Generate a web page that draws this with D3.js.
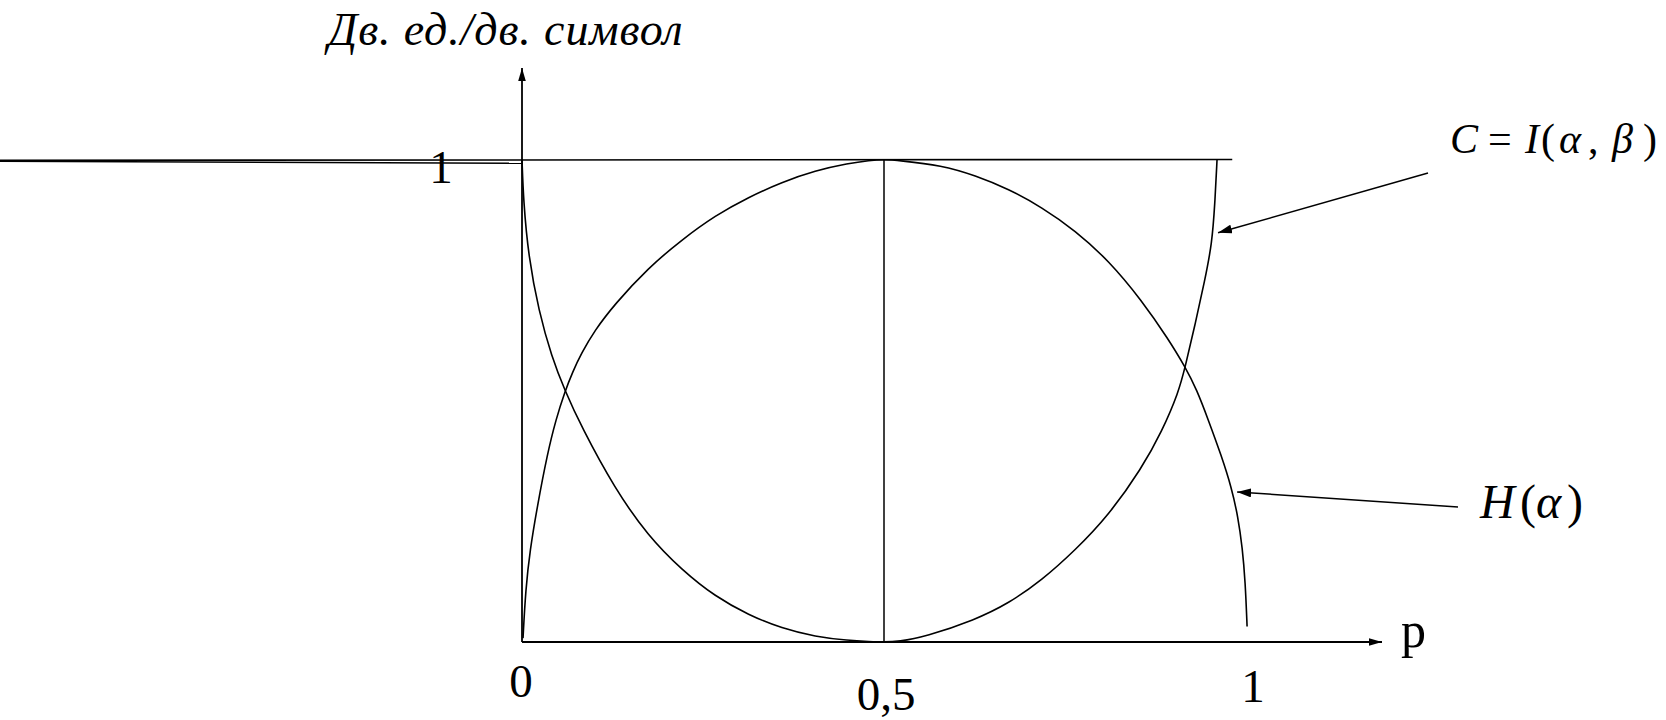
<!DOCTYPE html>
<html>
<head>
<meta charset="utf-8">
<script src="https://cdn.jsdelivr.net/npm/d3@7/dist/d3.min.js"></script>
<style>
  html, body { margin: 0; padding: 0; background: #fff; }
  svg { display: block; }
  text { font-family: "Liberation Serif", "Times New Roman", serif; fill: #000; }
</style>
</head>
<body>
<svg id="chart" width="1666" height="720"></svg>
<script>
// Probability of error p on the horizontal axis
const pTicks = [0, 0.5, 1];
const pTickLabels = ["0", "0,5", "1"];
const yTicks = [1];
const yTickLabels = ["1"];

// H(α): entropy of the error, in binary units per binary symbol
const entropyP = [0.0014, 0.005, 0.011, 0.021, 0.035, 0.047, 0.059, 0.070, 0.082, 0.100, 0.128, 0.174, 0.221, 0.267, 0.313, 0.359, 0.405, 0.451, 0.48, 0.5,
                  0.52, 0.580, 0.626, 0.672, 0.718, 0.764, 0.810, 0.856, 0.893, 0.916, 0.932, 0.948, 0.966, 0.980, 0.989, 0.995, 0.999, 1.0015];
const entropyV = [0.008, 0.108, 0.190, 0.280, 0.390, 0.462, 0.518, 0.560, 0.598, 0.645, 0.700, 0.775, 0.834, 0.884, 0.922, 0.953, 0.977, 0.992, 0.998, 1.0,
                  0.998, 0.988, 0.967, 0.939, 0.901, 0.853, 0.791, 0.708, 0.627, 0.570, 0.523, 0.460, 0.386, 0.320, 0.259, 0.195, 0.125, 0.032];

// C = I(α, β): channel capacity
const capacityP = [0, 0.002, 0.009, 0.023, 0.041, 0.059, 0.082, 0.128, 0.174, 0.221, 0.267, 0.313, 0.359, 0.405, 0.451, 0.48, 0.5,
                   0.52, 0.557, 0.626, 0.672, 0.718, 0.764, 0.810, 0.856, 0.884, 0.907, 0.916, 0.930, 0.943, 0.953, 0.957, 0.960];
const capacityV = [1.0, 0.915, 0.798, 0.687, 0.591, 0.522, 0.446, 0.318, 0.220, 0.149, 0.094, 0.056, 0.028, 0.011, 0.003, 0.001, 0,
                   0.001, 0.011, 0.046, 0.080, 0.128, 0.190, 0.262, 0.360, 0.437, 0.518, 0.570, 0.660, 0.749, 0.825, 0.908, 1.0];

const yAxisTitle = "Дв. ед./дв. символ";
const xAxisTitle = "p";

const svg = d3.select("#chart");

const x = d3.scaleLinear().domain([0, 1]).range([522, 1246]);
const y = d3.scaleLinear().domain([0, 1]).range([642, 159.5]);

// arrowheads
const defs = svg.append("defs");
function marker(id, len, half) {
  defs.append("marker")
    .attr("id", id)
    .attr("viewBox", `0 ${-half} ${len} ${2 * half}`)
    .attr("refX", len).attr("refY", 0)
    .attr("markerWidth", len).attr("markerHeight", 2 * half)
    .attr("markerUnits", "userSpaceOnUse")
    .attr("orient", "auto")
    .append("path")
    .attr("d", `M0,${-half}L${len},0L0,${half}Z`)
    .attr("fill", "#000");
}
marker("axisArrow", 13, 3.8);
marker("noteArrow", 14, 4.5);

const g = svg.append("g");

// level line at 1 bit, running out past the left edge
g.append("line")
  .attr("x1", 0).attr("y1", y(1) + 0.8)
  .attr("x2", x(0.981)).attr("y2", y(1))
  .attr("stroke", "#000").attr("stroke-width", 1.6);
g.append("line")
  .attr("x1", 0).attr("y1", y(1) + 1.8)
  .attr("x2", x(0)).attr("y2", y(1) + 3.8)
  .attr("stroke", "#000").attr("stroke-width", 1.4);

// vertical at p = 0.5
g.append("line")
  .attr("x1", x(0.5)).attr("y1", y(0))
  .attr("x2", x(0.5)).attr("y2", y(1))
  .attr("stroke", "#000").attr("stroke-width", 1.5);

// axes
g.append("line")
  .attr("x1", x(0)).attr("y1", y(0))
  .attr("x2", x(0)).attr("y2", 68)
  .attr("stroke", "#000").attr("stroke-width", 1.8)
  .attr("marker-end", "url(#axisArrow)");
g.append("line")
  .attr("x1", x(0)).attr("y1", y(0))
  .attr("x2", 1382).attr("y2", y(0))
  .attr("stroke", "#000").attr("stroke-width", 2)
  .attr("marker-end", "url(#axisArrow)");

// curves
const line = d3.line()
  .x(d => x(d[0]))
  .y(d => y(d[1]))
  .curve(d3.curveBasis);

g.append("path")
  .datum(d3.zip(entropyP, entropyV))
  .attr("d", line)
  .attr("fill", "none").attr("stroke", "#000").attr("stroke-width", 1.6);

g.append("path")
  .datum(d3.zip(capacityP, capacityV))
  .attr("d", line)
  .attr("fill", "none").attr("stroke", "#000").attr("stroke-width", 1.6);

// tick labels
const tickNudge = [[-1, 55], [2, 68], [7, 60]];
g.selectAll("text.xtick")
  .data(pTicks)
  .join("text")
  .attr("class", "xtick")
  .attr("x", (d, i) => x(d) + tickNudge[i][0])
  .attr("y", (d, i) => y(0) + tickNudge[i][1])
  .attr("text-anchor", "middle")
  .attr("font-size", 47)
  .text((d, i) => pTickLabels[i]);

g.selectAll("text.ytick")
  .data(yTicks)
  .join("text")
  .attr("class", "ytick")
  .attr("x", d => x(0) - 81)
  .attr("y", d => y(d) + 23)
  .attr("text-anchor", "middle")
  .attr("font-size", 47)
  .text((d, i) => yTickLabels[i]);

// axis titles
g.append("text")
  .attr("x", 328).attr("y", 45)
  .attr("font-size", 46).attr("font-style", "italic")
  .attr("letter-spacing", 0.9)
  .text(yAxisTitle);
g.append("text")
  .attr("x", 1401).attr("y", 647)
  .attr("font-size", 50)
  .text(xAxisTitle);

// curve annotations
g.append("line")
  .attr("x1", 1428).attr("y1", 173)
  .attr("x2", x(0.960) + 1).attr("y2", y(0.848))
  .attr("stroke", "#000").attr("stroke-width", 1.5)
  .attr("marker-end", "url(#noteArrow)");
g.append("line")
  .attr("x1", 1458).attr("y1", 507)
  .attr("x2", x(0.985) + 2).attr("y2", y(0.311))
  .attr("stroke", "#000").attr("stroke-width", 1.5)
  .attr("marker-end", "url(#noteArrow)");

// formula labels, each piece set at its own x
function formula(parts, baseline, size) {
  const t = g.append("text").attr("y", baseline).attr("font-size", size);
  parts.forEach(([str, italic, px]) => {
    t.append("tspan")
      .attr("x", px)
      .attr("font-style", italic ? "italic" : "normal")
      .text(str);
  });
}
formula([["C", 1, 1450], ["=", 0, 1488], ["I", 1, 1525], ["(", 0, 1541], ["α", 1, 1559],
         [",", 0, 1588], ["β", 1, 1612], [")", 0, 1643]], 153, 42);
formula([["H", 1, 1480], ["(", 0, 1520], ["α", 1, 1536], [")", 0, 1567]], 518, 48);
</script>
</body>
</html>
